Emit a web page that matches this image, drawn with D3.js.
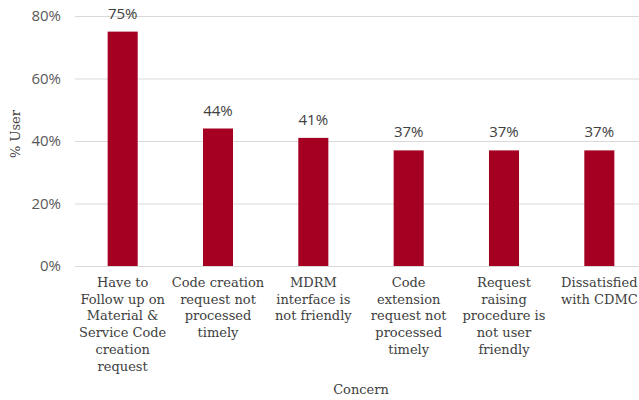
<!DOCTYPE html>
<html>
<head>
<meta charset="utf-8">
<script src="https://cdn.jsdelivr.net/npm/d3@7"></script>
<style>
  html, body { margin: 0; padding: 0; background: #fff; }
  svg { display: block; }
</style>
</head>
<body>
<script>
// Concern categories (each entry is the wrapped label lines)
const categories = [
  ["Have to", "Follow up on", "Material &", "Service Code", "creation", "request"],
  ["Code creation", "request not", "processed", "timely"],
  ["MDRM", "interface is", "not friendly"],
  ["Code", "extension", "request not", "processed", "timely"],
  ["Request", "raising", "procedure is", "not user", "friendly"],
  ["Dissatisfied", "with CDMC"]
];
const userShare = [75, 44, 41, 37, 37, 37];
const yTicks = [0, 20, 40, 60, 80];

const width = 639, height = 400;
const svg = d3.select("body").append("svg")
  .attr("width", width).attr("height", height);

const x = d3.scaleBand()
  .domain(d3.range(categories.length))
  .range([75, 647])
  .paddingInner(0.685)
  .paddingOuter(0.3425);

const y = d3.scaleLinear().domain([0, 80]).range([266, 16]);

const sans = "'Open Sans', 'DejaVu Sans', sans-serif";
const serif = "'DejaVu Serif', serif";

// Gridlines and tick labels
const yAxis = d3.axisLeft(y).tickValues(yTicks)
  .tickFormat(d => d + "%").tickSize(-(width - 75)).tickPadding(14);
const gy = svg.append("g").attr("transform", "translate(75,0)").call(yAxis);
gy.select(".domain").remove();
gy.selectAll(".tick line").attr("stroke", "#d9d9d9").attr("stroke-width", 1);
gy.selectAll(".tick text")
  .attr("font-family", sans).attr("font-size", 15).attr("fill", "#595959");

// Bars
svg.append("g").selectAll("rect")
  .data(userShare)
  .join("rect")
  .attr("x", (d, i) => x(i))
  .attr("y", d => y(d))
  .attr("width", x.bandwidth())
  .attr("height", d => y(0) - y(d))
  .attr("fill", "#A50021");

// Value labels
svg.append("g").selectAll("text")
  .data(userShare)
  .join("text")
  .attr("x", (d, i) => x(i) + x.bandwidth() / 2)
  .attr("y", d => y(d) - 13)
  .attr("text-anchor", "middle")
  .attr("font-family", sans).attr("font-size", 15).attr("fill", "#404040")
  .text(d => d + "%");

// Category labels
const catG = svg.append("g");
categories.forEach((lines, i) => {
  const t = catG.append("text")
    .attr("text-anchor", "middle")
    .attr("font-family", serif).attr("font-size", 13).attr("fill", "#404040");
  lines.forEach((line, j) => {
    t.append("tspan")
      .attr("x", x(i) + x.bandwidth() / 2)
      .attr("y", 287 + j * 16.7)
      .text(line);
  });
});

// Axis titles
svg.append("text")
  .attr("x", 361).attr("y", 394)
  .attr("text-anchor", "middle")
  .attr("font-family", serif).attr("font-size", 13).attr("fill", "#404040")
  .text("Concern");

svg.append("text")
  .attr("transform", "translate(20,134) rotate(-90)")
  .attr("text-anchor", "middle")
  .attr("font-family", serif).attr("font-size", 13).attr("fill", "#404040")
  .text("% User");
</script>
</body>
</html>
